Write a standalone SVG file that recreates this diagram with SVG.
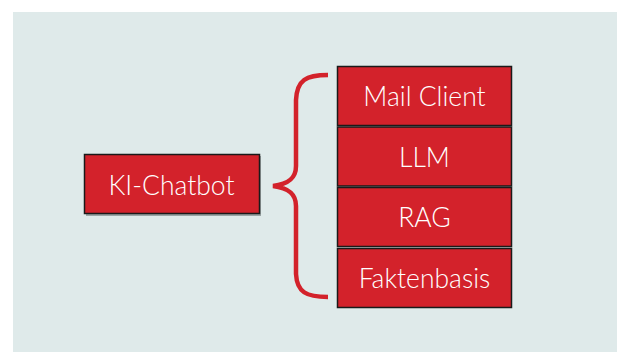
<svg xmlns="http://www.w3.org/2000/svg" width="617" height="352" viewBox="0 0 617 352">
<style>
.box{fill:#d3222b;stroke:#1a1a1a;stroke-width:1.5}
.lbl{font-family:Lato,"Open Sans",sans-serif;font-weight:300;font-size:26.5px;fill:#ffffff;text-anchor:middle;dominant-baseline:central}
</style>
<rect x="0" y="0" width="617" height="352" fill="#ffffff"/>
<rect x="13" y="12" width="604" height="340" fill="#dfeaea"/>
<g id="connectors">
<path d="M328,75 C306,75 297,80 296,100 L296,166 C296,178 289,184 273,186 C289,188 296,194 296,206 L296,274 C297,292 306,297 328,297" fill="none" stroke="#d3222b" stroke-width="4.5" stroke-linecap="butt"/>
</g>
<g id="ki-chatbot">
<rect x="86" y="156" width="175" height="60" fill="#9aa5a5"/>
<rect class="box" x="84.5" y="154.5" width="175" height="59"/>
<text class="lbl" x="171.5" y="185">KI-Chatbot</text>
</g>
<g id="mail-client">
<rect class="box" x="337.5" y="66.5" width="174" height="59"/>
<text class="lbl" x="424.5" y="96">Mail Client</text>
</g>
<g id="llm">
<rect class="box" x="337.5" y="127" width="174" height="59"/>
<text class="lbl" x="424.5" y="156.5">LLM</text>
</g>
<g id="rag">
<rect class="box" x="337.5" y="187.5" width="174" height="59"/>
<text class="lbl" x="424.5" y="217">RAG</text>
</g>
<g id="faktenbasis">
<rect class="box" x="337.5" y="248.5" width="174" height="59"/>
<text class="lbl" x="424.5" y="278">Faktenbasis</text>
</g>
</svg>
